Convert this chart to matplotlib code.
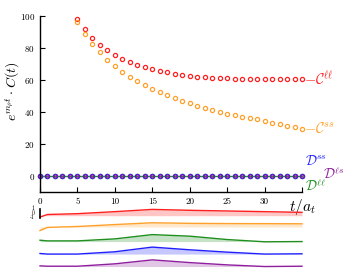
import numpy as np
import matplotlib
matplotlib.use("Agg")
import matplotlib.pyplot as plt

plt.rcParams['font.family'] = 'serif'
plt.rcParams['font.serif'] = ['cmr10', 'DejaVu Serif']
plt.rcParams['mathtext.fontset'] = 'cm'
plt.rcParams['axes.formatter.use_mathtext'] = True

# ---- data ----
t_C = list(range(5, 36))
C_ll = [97.9, 91.5, 86.0, 81.9, 78.4, 75.7, 72.9, 70.9, 69.4, 68.0, 66.5, 65.4,
        64.6, 63.8, 63.0, 62.6, 61.9, 61.5, 61.3, 61.0, 60.9, 60.7, 60.5, 60.5,
        60.3, 60.3, 60.3, 60.2, 60.2, 60.2, 60.2]
C_ss = [96.0, 88.6, 82.3, 77.1, 72.3, 68.6, 65.0, 61.9, 59.2, 56.7, 54.2, 52.3,
        50.4, 48.6, 46.8, 45.3, 43.8, 42.6, 41.1, 39.9, 38.8, 37.8, 36.9, 36.1,
        35.3, 34.2, 33.2, 32.3, 31.3, 30.4, 29.5]

t_D = list(range(0, 36))
D_ll = [0.0, 0.0, 0.0, 0.0, 0.0, 0.0, 0.0, 0.0, 0.0, 0.0, 0.0, 0.0,
        0.0, 0.0, 0.0, 0.0, 0.0, 0.0, 0.0, 0.0, 0.0, 0.0, 0.0, 0.0,
        0.0, 0.0, 0.0, 0.0, 0.0, 0.0, 0.0, 0.0, 0.0, 0.0, 0.0, 0.0]
D_ss = [0.0, 0.0, 0.0, 0.0, 0.0, 0.0, 0.0, 0.0, 0.0, 0.0, 0.0, 0.0,
        0.0, 0.0, 0.0, 0.0, 0.0, 0.0, 0.0, 0.0, 0.0, 0.0, 0.0, 0.0,
        0.0, 0.0, 0.0, 0.0, 0.0, 0.0, 0.0, 0.0, 0.0, 0.0, 0.0, 0.0]
D_ls = [0.0, 0.0, 0.0, 0.0, 0.0, 0.0, 0.0, 0.0, 0.0, 0.0, 0.0, 0.0,
        0.0, 0.0, 0.0, 0.0, 0.0, 0.0, 0.0, 0.0, 0.0, 0.0, 0.0, 0.0,
        0.0, 0.0, 0.0, 0.0, 0.0, 0.0, 0.0, 0.0, 0.0, 0.0, 0.0, 0.0]

x_ticks = [0, 5, 10, 15, 20, 25, 30, 35]
x_ticklabels = ['0', '5', '10', '15', '20', '25', '30', '']
y_ticks = [0, 20, 40, 60, 80, 100]

# lower strips (values in scale-bar units)
t_S = [0, 1, 5, 10, 15, 20, 25, 30, 35]
S_red = [-0.9, -0.33, -0.15, 0.3, 0.8, 0.6, 0.45, 0.3, 0.15]
S_orange = [-1.0, -0.3, -0.1, 0.33, 0.73, 0.6, 0.55, 0.53, 0.5]
S_green = [-0.45, -0.6, -0.6, -0.15, 0.8, 0.45, -0.3, -0.8, -0.75]
S_blue = [-0.6, -0.73, -0.73, -0.22, 0.82, 0.22, -0.3, -0.73, -0.67]
S_purple = [-0.55, -0.63, -0.63, -0.1, 0.78, 0.18, -0.33, -0.7, -0.63]

red = '#ff1f1f'
orange = '#ffa02a'
green = '#1f8f1f'
blue = '#2020ff'
purple = '#8f1f9f'

fig = plt.figure(figsize=(3.49, 2.75), dpi=100)
ax = fig.add_axes([40 / 349, (275 - 191.7) / 275, 262 / 349, 176 / 275])
ax.set_xlim(0, 35)
ax.set_ylim(-10, 100)
for s in ['top', 'right']:
    ax.spines[s].set_visible(False)
for s in ['left', 'bottom']:
    ax.spines[s].set_linewidth(1.0)

mk = dict(marker='o', ms=3.0, mew=0.9, mfc='none', ls='none', clip_on=False)
ax.plot(t_D, D_ll, color=green, lw=1.0, marker='o', ms=3.0, mew=0.9, mfc='none', clip_on=False)
ax.plot(t_D, D_ss, color=blue, **mk)
ax.plot(t_D, D_ls, color=purple, marker='o', ms=2.2, mew=0.9, mfc='none', ls='none', clip_on=False)
ax.plot(t_C, C_ll, color=red, **mk)
ax.plot(t_C, C_ss, color=orange, **mk)

ax.set_xticks(x_ticks)
ax.set_xticklabels(x_ticklabels)
ax.set_yticks(y_ticks)
ax.tick_params(direction='in', length=3.5, width=0.8, labelsize=6.5)
ax.tick_params(axis='x', pad=4.5)
ax.tick_params(axis='y', pad=3.5)

ax.text(35.1, -10 - 3.5, r'$t/a_t$', fontsize=11, ha='center', va='top', clip_on=False)
fig.text(13 / 349, 1 - 91 / 275, r'$e^{m_\rho t}\cdot C(t)$', rotation=90,
         fontsize=10, ha='center', va='center')

ax.text(35.3, C_ll[-1], r'$-\mathcal{C}^{\ell\ell}$', color=red, fontsize=10.5,
        ha='left', va='center', clip_on=False)
ax.text(35.3, C_ss[-1], r'$-\mathcal{C}^{ss}$', color=orange, fontsize=10.5,
        ha='left', va='center', clip_on=False)
ax.text(35.4, 9.0, r'$\mathcal{D}^{ss}$', color=blue, fontsize=10,
        ha='left', va='center', clip_on=False)
ax.text(37.8, 0.8, r'$\mathcal{D}^{\ell s}$', color=purple, fontsize=10,
        ha='left', va='center', clip_on=False)
ax.text(35.4, -6.3, r'$\mathcal{D}^{\ell\ell}$', color=green, fontsize=10,
        ha='left', va='center', clip_on=False)

# ---- lower strips ----
axb = fig.add_axes([40 / 349, 5 / 275, 262 / 349, 65 / 275])
axb.set_xlim(0, 35)
axb.set_ylim(-12.67, 1.78)
axb.axis('off')

strips = [(S_red, red, 0.0, -0.6), (S_orange, orange, -2.9, -0.2),
          (S_green, green, -5.6, -0.75), (S_blue, blue, -8.4, -0.73),
          (S_purple, purple, -11.2, -0.7)]
for vals, col, off, base in strips:
    v = np.array(vals) + off
    axb.fill_between(t_S, v, base + off, color=col, alpha=0.25, lw=0, clip_on=False)
    axb.plot(t_S, v, color=col, lw=1.0, clip_on=False)

axb.plot([0, 0], [-1, 1], color='k', lw=1.2, clip_on=False)
for val, lab in [(1, '1'), (0, '0'), (-1, r'-1')]:
    axb.text(-0.7, val, lab, fontsize=4, ha='right', va='center', clip_on=False)

fig.savefig('out.png', dpi=100)
